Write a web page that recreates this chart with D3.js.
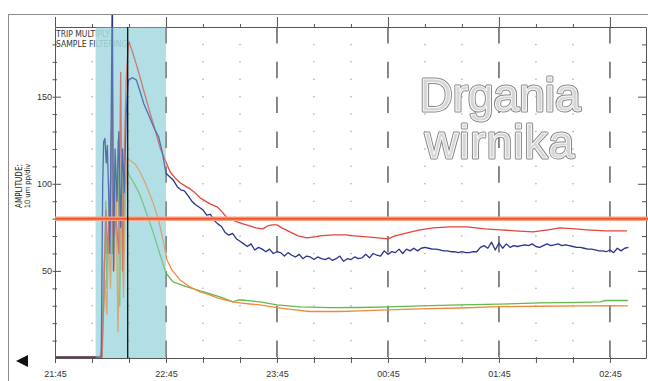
<!DOCTYPE html>
<html>
<head>
<meta charset="utf-8">
<script src="https://cdnjs.cloudflare.com/ajax/libs/d3/7.8.5/d3.min.js"></script>
<style>
  body { margin: 0; background: #fff; }
  svg { display: block; font-family: "Liberation Sans Narrow", "DejaVu Sans Condensed", "Liberation Sans", sans-serif; }
</style>
</head>
<body>
<svg id="chart" width="648" height="381"></svg>
<script>
// time is minutes after 21:45, amplitude in 10 um pp/div units
const hourLabels = ['21:45', '22:45', '23:45', '00:45', '01:45', '02:45'];
const hourMinutes = [0, 60, 120, 180, 240, 300];
const yLabels = [50, 100, 150];
const alarmLevel = 80;
const filterWindow = [22, 60];
const markerTime = 39.3;

const redTrace = [[0,0.5],[25.5,0.5],[26.5,40],[27.5,85],[28.5,60],[30,100],[31,163],[31.5,70],[33,80],[34.5,60],[35.5,164],[36.5,50],[37.5,120],[38.5,160],[39.5,178],
  [40,181.6],[43.2,171.3],[45.9,161.5],[48.6,151.1],[51.4,140.8],[54.1,131],[56.8,120.7],[59.5,113.8],[62.2,106.9],[64.9,103.4],[67.6,100.6],[70.3,98.8],[73,97.1],[75.7,94.8],
  [78.4,92],[81.1,90.2],[83.8,88.5],[87.6,86.8],[90.3,83.9],[93,80.5],[95.7,79.3],[98.4,78.2],[101.6,77],[105.4,75.9],[108.6,74.7],[112.4,74.1],[115.1,75.9],[117.3,76.4],
  [120,76.4],[122.7,74.7],[127,72.4],[131.4,70.1],[136.2,69],[140.5,69.5],[143.2,70.1],[150.3,70.7],[156.8,70.7],[162.2,70.1],[168.6,69.5],[174.6,69],[180,68.4],[183.8,70.1],
  [190.3,71.8],[197.3,73.6],[204.3,74.7],[213.5,75.3],[222.7,75.3],[232.4,74.1],[240.5,73.6],[248.6,73],[258.4,72.4],[266.5,73.6],[273,74.7],[281.1,74.1],[287.6,73.6],
  [297.3,73],[309.2,73]];

const blueTrace = [[0,0.5],[25,0.5],[25.8,100],[26.3,124],[27,126],[27.7,112],[28.3,122],[29,95],[29.7,60],[30.4,140],[31,215],[31.6,50],[32.5,120],[33.5,90],[34.5,130],
  [35.5,75],[36.5,120],[37.5,95],[38.5,140],[39.5,158],
  [40,159.8],[42,160.9],[44,159.5],[46,153],[48,146],[50,141],[52,136],[54,131],[56,127],[58,118],[60,106],[62,104],[64,102],[66,98.5],[68,96.5],[70,96],[72,93],[74,90],
  [76,88],[78,86.5],[80,85],[82,82],[84,82.5],[86,79],[88,77],[90,75.5],[92,72],[94,70.5],[96,71.5],[98,68.5],
  [100,67],[102,65.5],[104,64],[106,65.5],[108,62],[110,63.5],[112,62.5],[114,61],[116,62.5],[118,60],[120,61],[122,60.5],[124,58.5],[126,60.5],[128,59],[130,58],
  [132,59.5],[134,57],[136,58.5],[138,58],[140,56.5],[142,58],[144,57],[146,56.5],[148,57.5],[150,56],[152,57],[154,58.5],[156,55.5],[158,57],[160,56.5],[162,58],
  [164,57],[166,57.5],[168,59.5],[170,57.5],[172,60],[174,59],[176,58.5],[178,61.5],[180,59.5],[182,61],[184,60.5],[186,62.5],[188,60],[190,62.5],[192,61.5],[194,63],
  [196,61.5],[198,63],[200,63.5],[202,63],[204,62.5],[206,62.5],[208,62],[210,61.5],
  [212,61.5],[214,61],[216,61],[218,60.5],[220,61],[222,60.5],[224,60.5],[226,61],[228,61],[230,63.5],[232,64.5],[234,63],[236,66.5],[238,62],[240,66],[242,63],[244,65.5],
  [246,63.5],[248,64.5],[250,64],[252,64.5],[254,65],[256,64.5],[258,65.5],[260,64],[262,63.5],[264,64.5],[266,65.5],[268,64.5],[270,65],[272,65.5],[274,64.5],[276,65],
  [278,64.5],[280,64],[282,63.5],[284,63.5],[286,63],[288,62.5],[290,62.5],[292,62],[294,61.5],[296,61.5],[298,61],[300,62],[302,60.5],[304,63],[306,61.5],[308,63],[310,63.5]];

const greenTrace = [[0,0.5],[22,0.5],[24.5,1],[25.5,8],[26,30],[26.5,55],[27,60],[27.5,90],[28,40],[29,70],[30,100],[30.5,130],[31,60],[32,110],[33,70],[34,125],[35,30],
  [36,115],[37,60],[38,100],[39,108],
  [40,105.2],[43.2,99.4],[45.9,93.7],[49.2,83.9],[53,72.4],[56.8,59.2],[60,48.8],[63.8,43.7],[71.4,40.8],[78.4,38.5],[82.2,37.4],[89.2,35.1],[96.2,32.2],[98.9,33.3],
  [101.1,33.3],[105.4,32.8],[110.8,32.2],[120,30.5],[132.4,29.3],[148.6,28.9],[164.9,29],[180,29.3],[197.3,29.9],[218.9,30.5],[240,30.9],[262.2,31.6],[283.8,31.9],
  [294.6,32.2],[297.3,33],[309.7,33]];

const orangeTrace = [[0,0.5],[25,0.5],[26,20],[27,45],[28,25],[29,75],[30,40],[31,90],[32,50],[33,100],[34,15],[35,60],[36,100],[37,35],[38,90],[39,115],
  [40,113.8],[43.2,111.5],[45.9,106.9],[49.2,99.4],[53,89.1],[55.7,80.5],[58.4,67.8],[60.5,56.3],[63.2,50.6],[67.6,44.8],[73,40.8],[78.4,37.9],[83.8,36.2],[87.6,34.5],
  [91.9,33.3],[96.2,32.2],[100,31.6],[105.4,31],[110.8,30.5],[120,28.9],[129.7,27.6],[137.8,26.7],[154.1,26.7],[164.9,27],[180,27.6],[197.3,28.2],[218.9,28.7],[240,29.5],
  [262.2,29.7],[283.8,29.9],[300,30.1],[309.7,29.9]];

const w = 648,
      h = 381;
const plotLeft = 55, plotRight = 646, plotTop = 27, plotBottom = 358;

const x = d3.scaleLinear().domain([0, 319.5]).range([plotLeft, plotRight]);
const y = d3.scaleLinear().domain([0, 190]).range([plotBottom, plotTop]);

const svg = d3.select('#chart');
svg.append('rect').attr('width', w).attr('height', h).attr('fill', '#fff');

/* Outer frame */
svg.append('rect').attr('x', 8.5).attr('y', 14.5).attr('width', 650).attr('height', 380)
  .attr('fill', 'none').attr('stroke', '#8c8c8c');

/* Labels in the corner, drawn under the shaded window */
svg.append('text').attr('x', plotLeft + 1).attr('y', 37).text('TRIP MULTIPLY')
  .style('font-size', '8.5px').style('fill', '#333');
svg.append('text').attr('x', plotLeft + 1).attr('y', 47).text('SAMPLE FILTERING')
  .style('font-size', '8.5px').style('fill', '#333');

/* Shaded window */
const shade = (op) => svg.append('rect')
  .attr('x', x(filterWindow[0])).attr('y', plotTop)
  .attr('width', x(filterWindow[1]) - x(filterWindow[0])).attr('height', plotBottom - plotTop)
  .attr('fill', '#a6dbe3').attr('opacity', op);
shade(0.8);

/* Grid dots and hour dashes */
const minorMinutes = d3.range(20, 319, 20).filter((m) => m % 60 !== 0);
const dotLevels = d3.range(10, 190, 10);
const dots = svg.append('g');
minorMinutes.forEach((m) => {
  dots.selectAll(null).data(dotLevels).enter().append('circle')
    .attr('cx', x(m)).attr('cy', (d) => y(d)).attr('r', 0.75).attr('fill', '#a0a0a0');
});
const dashLen = y(180) - y(190) - 1;
svg.append('g').selectAll('line').data(hourMinutes.slice(1)).enter().append('line')
  .attr('x1', (d) => x(d)).attr('x2', (d) => x(d))
  .attr('y1', plotTop).attr('y2', plotBottom)
  .attr('stroke', '#6b6b6b').attr('stroke-width', 1.6)
  .attr('stroke-dasharray', `${dashLen},${(y(0) - y(20)) - dashLen}`);

/* Axes */
const tickMinutes = d3.range(0, 319, 20);
const xBottom = d3.axisBottom(x).tickValues(tickMinutes).tickSize(5)
  .tickFormat((d) => d % 60 === 0 ? hourLabels[hourMinutes.indexOf(d)] : '');
const gx = svg.append('g').attr('transform', `translate(0, ${plotBottom})`).call(xBottom);
gx.select('.domain').attr('d', `M${plotLeft},0.5H${plotRight}`);
gx.selectAll('.tick line').attr('y1', -1);
gx.selectAll('.tick text').attr('dy', '0.9em').attr('y', 11).style('font-size', '9px').style('fill', '#333');

const xTop = d3.axisTop(x).tickValues(tickMinutes).tickFormat('')
  .tickSize(3).tickSizeOuter(0);
const gt = svg.append('g').attr('transform', `translate(0, ${plotTop})`).call(xTop);
gt.selectAll('.tick line').attr('y2', (d) => d % 60 === 0 ? -10 : -3);

const yTicks = d3.range(10, 190, 10);
const yLeft = d3.axisLeft(y).tickValues(yTicks).tickSizeOuter(0)
  .tickFormat((d) => yLabels.includes(d) ? d : '');
const gy = svg.append('g').attr('transform', `translate(${plotLeft}, 0)`).call(yLeft);
gy.selectAll('.tick line').attr('x1', (d) => yLabels.includes(d) ? 6 : 2).attr('x2', -2.5);
gy.selectAll('.tick text').attr('x', -3).style('font-size', '9px').style('fill', '#333');

const yRight = d3.axisLeft(y).tickValues(yTicks).tickFormat('').tickSizeOuter(0);
const gr = svg.append('g').attr('transform', `translate(${plotRight}, 0)`).call(yRight);
gr.selectAll('.tick line').attr('x2', (d) => yLabels.includes(d) ? -8 : -4);

svg.selectAll('.domain').attr('stroke', '#555');
svg.selectAll('.tick line').attr('stroke', '#555');

/* Axis title */
svg.append('text').attr('transform', 'translate(22, 186) rotate(-90)').attr('text-anchor', 'middle')
  .text('AMPLITUDE:').style('font-size', '8px').style('fill', '#222');
svg.append('text').attr('transform', 'translate(30, 186) rotate(-90)').attr('text-anchor', 'middle')
  .text('10 um pp/div').style('font-size', '7.5px').style('fill', '#222');

/* Traces */
svg.append('clipPath').attr('id', 'clip').append('rect')
  .attr('x', plotLeft).attr('y', 15).attr('width', plotRight - plotLeft).attr('height', plotBottom - 13);
const line = d3.line().x((d) => x(d[0])).y((d) => y(d[1]));
const traces = svg.append('g').attr('clip-path', 'url(#clip)');
[[greenTrace, '#62b94c'], [orangeTrace, '#ef8a3c'], [redTrace, '#e2453a'], [blueTrace, '#27358f']]
  .forEach(([data, color]) => {
    traces.append('path').datum(data).attr('d', line)
      .attr('fill', 'none').attr('stroke', color).attr('stroke-width', 1.3)
      .attr('stroke-linejoin', 'round');
  });

// traces inside the window look washed out
shade(0.35);

/* Alarm level */
svg.append('line').attr('x1', plotLeft).attr('x2', w).attr('y1', y(alarmLevel)).attr('y2', y(alarmLevel))
  .attr('stroke', '#f6a58c').attr('stroke-width', 4.5);
svg.append('line').attr('x1', plotLeft).attr('x2', w).attr('y1', y(alarmLevel)).attr('y2', y(alarmLevel))
  .attr('stroke', '#ef5a2c').attr('stroke-width', 2);

/* Cursor */
svg.append('line').attr('x1', x(markerTime)).attr('x2', x(markerTime)).attr('y1', plotTop).attr('y2', plotBottom)
  .attr('stroke', '#111').attr('stroke-width', 1.3);

/* Scroll arrow */
svg.append('path').attr('d', 'M16,361L28,355L28,367Z').attr('fill', '#111');

/* Title (filtered so the outline is not colour-fringed) */
svg.append('defs').append('filter').attr('id', 'flat')
  .append('feOffset').attr('dx', 0).attr('dy', 0);
const title = svg.append('g').attr('text-anchor', 'middle').attr('filter', 'url(#flat)')
  .style('font-family', '"Liberation Sans", Arial, sans-serif').style('font-size', '46px');
['Drgania', 'wirnika'].forEach((t, i) => {
  const yy = 111 + i * 47;
  title.append('text').attr('x', 500).attr('y', yy).text(t)
    .attr('letter-spacing', i === 1 ? 1 : 0)
    .attr('fill', 'none').attr('stroke', '#858585').attr('stroke-width', 3).attr('stroke-linejoin', 'round');
  title.append('text').attr('x', 500).attr('y', yy).text(t)
    .attr('letter-spacing', i === 1 ? 1 : 0)
    .attr('fill', '#d6d6d6').attr('stroke', '#fafafa').attr('stroke-width', 1);
});
</script>
</body>
</html>
